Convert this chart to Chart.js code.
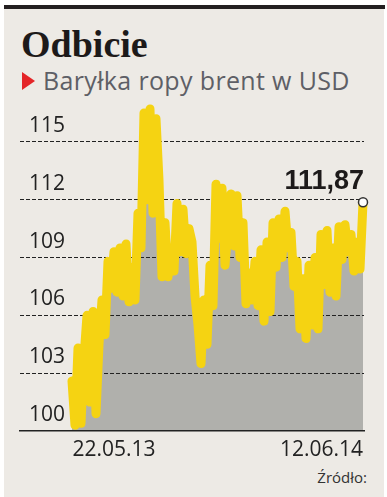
<!DOCTYPE html>
<html>
<head>
<meta charset="utf-8">
<script src="https://cdn.jsdelivr.net/npm/chart.js@4.4.1/dist/chart.umd.min.js"></script>
<style>
  html, body { margin: 0; padding: 0; background: #fff; }
  #wrap { position: relative; width: 387px; height: 497px; overflow: hidden; }
  #bar { position: absolute; left: 4px; top: 5px; width: 381px; height: 4px; background: #231f20; }
  #panel { position: absolute; left: 4px; top: 9px; width: 380px; height: 488px; background: #edeae5; }
  #title { position: absolute; left: 21px; top: 26px; font: bold 38px "Liberation Serif"; line-height: 37px; color: #1d1a1a; white-space: nowrap; }
  #tri { position: absolute; left: 22px; top: 72px; width: 0; height: 0;
         border-left: 13px solid #e42528; border-top: 9.5px solid transparent; border-bottom: 9.5px solid transparent; }
  #sub { position: absolute; left: 43px; top: 68px; font: 25px "Open Sans"; line-height: 24px; letter-spacing: 0.35px; color: #5e5f66; white-space: nowrap; }
  #src { position: absolute; right: 20px; top: 470px; font: 15px "Open Sans"; line-height: 15px; color: #333; }
  canvas { position: absolute; left: 0; top: 0; }
</style>
</head>
<body>
<div id="wrap">
  <div id="bar"></div>
  <div id="panel"></div>
  <div id="title">Odbicie</div>
  <div id="tri"></div>
  <div id="sub">Baryłka ropy brent w USD</div>
  <div id="src">Źródło:</div>
  <canvas id="chart" width="387" height="497"></canvas>
</div>
<script>
// ceny brent, USD za baryłkę (odczyt z wykresu)
const prices = [
  102.6, 100.3, 104.3, 100.4, 103.8, 106.0, 101.5, 106.2, 100.9, 104.5,
  106.8, 105.0, 108.8, 107.4, 109.3, 107.2, 109.5, 107.0, 109.7, 106.7,
  108.5, 106.8, 111.3, 109.5, 116.5, 112.0, 116.7, 111.3, 116.2, 113.0,
  108.0, 110.8, 108.0, 109.5, 108.3, 111.8, 109.3, 111.5, 109.2, 110.5,
  109.8, 107.0, 105.5, 103.5, 106.8, 104.5, 108.6, 106.5, 112.8, 110.0,
  112.6, 108.6, 110.5, 112.3, 109.6, 112.2, 109.0, 110.8, 106.6, 108.2,
  106.8, 108.8, 106.5, 109.4, 105.7, 109.8, 106.2, 110.8, 108.5, 111.0,
  109.0, 111.4, 109.5, 110.3, 107.5, 108.8, 105.3, 107.9, 104.8, 108.6,
  105.5, 109.0, 105.3, 110.2, 107.6, 110.4, 107.2, 109.5, 107.0, 110.6,
  108.9, 110.7, 109.3, 110.2, 108.3, 109.8, 108.4, 111.87
];
const xTickLabels = ['22.05.13', '12.06.14'];
const xTickIndex = [14, 97];
const yTicks = [100, 103, 106, 109, 112, 115];

const last = prices.length - 1;

const labelsPlugin = {
  id: 'labels',
  afterDraw(chart) {
    const ctx = chart.ctx;
    const xs = chart.scales.x;
    ctx.save();
    ctx.fillStyle = '#222';
    ctx.font = '21px "Open Sans"';
    ctx.textBaseline = 'alphabetic';
    xTickLabels.forEach((t, k) => {
      const px = xs.getPixelForValue(xTickIndex[k]);
      ctx.textAlign = xTickIndex[k] === last ? 'right' : 'center';
      ctx.fillText(t, px, 456);
    });
    const pt = chart.getDatasetMeta(0).data[last];
    ctx.font = 'bold 27px "Liberation Sans"';
    ctx.fillStyle = '#1d1a1a';
    ctx.textAlign = 'right';
    ctx.fillText(prices[last].toFixed(2).replace('.', ','), pt.x + 1, pt.y - 13);
    ctx.restore();
  }
};

new Chart(document.getElementById('chart').getContext('2d'), {
  type: 'line',
  data: {
    datasets: [{
      data: prices.map((v, i) => ({ x: i, y: v })),
      borderColor: '#f5d312',
      borderWidth: 9,
      borderJoinStyle: 'round',
      borderCapStyle: 'round',
      backgroundColor: '#b0b0ac',
      fill: 'start',
      tension: 0,
      clip: false,
      pointRadius: c => c.dataIndex === last ? 4.5 : 0,
      pointBackgroundColor: '#fff',
      pointBorderColor: '#333',
      pointBorderWidth: 1.5
    }]
  },
  options: {
    responsive: false,
    animation: false,
    events: [],
    layout: { padding: { left: 2, right: 23, top: 101, bottom: 66 } },
    plugins: {
      legend: { display: false },
      tooltip: { enabled: false },
      filler: { drawTime: 'beforeDraw' }
    },
    scales: {
      x: {
        type: 'linear',
        min: -17.33,
        max: 97.33,
        grid: { display: false, drawTicks: false },
        ticks: { display: false },
        border: { display: true, color: '#222', width: 1.5 }
      },
      y: {
        min: 100,
        max: 117.12,
        afterBuildTicks: s => { s.ticks = yTicks.map(v => ({ value: v })); },
        grid: {
          drawTicks: false,
          color: c => c.tick && c.tick.value === 100 ? 'rgba(0,0,0,0)' : '#222',
          lineWidth: 1
        },
        border: { display: false, dash: [4, 2] },
        ticks: {
          mirror: true,
          padding: 9,
          labelOffset: -16,
          color: '#222',
          font: { family: 'Open Sans', size: 21 }
        }
      }
    }
  },
  plugins: [labelsPlugin]
});
</script>
</body>
</html>
